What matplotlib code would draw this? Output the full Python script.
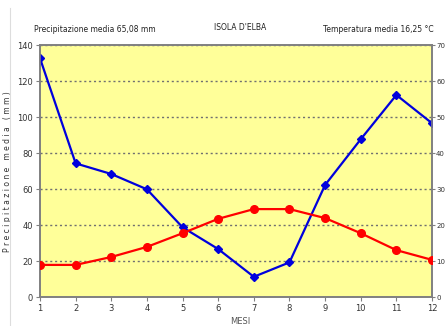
import matplotlib.pyplot as plt
from matplotlib.lines import Line2D

mesi = [1, 2, 3, 4, 5, 6, 7, 8, 9, 10, 11, 12]
precipitazioni = [132.8, 74.4, 68.5, 60.0, 38.9, 26.8, 11.4, 19.4, 62.4, 87.8, 112.4, 96.7]
temperature = [9.0, 9.0, 11.2, 14.0, 17.8, 21.8, 24.5, 24.5, 22.0, 17.8, 13.1, 10.4]

fig = plt.figure(figsize=(4.46, 3.26), dpi=100)
ax = fig.add_axes([40/446, 1-297.3/326, (432-40)/446, (297.3-45.3)/326])
ax.set_facecolor('#ffff99')

ax.plot(mesi, precipitazioni, color='#0000dd', lw=1.6, marker='D', ms=4.5, zorder=4)
ax.set_xlim(1, 12)
ax.set_ylim(0, 140)
ax.set_yticks(range(0, 141, 20))
ax.set_xticks(mesi)
ax.yaxis.grid(True, linestyle=(0, (1.5, 2)), color='#707070', lw=1)
ax.set_axisbelow(True)
ax.tick_params(labelsize=6, length=3, width=0.8, color='#808080', labelcolor='#333333', pad=2)
ax.set_ylabel('P r e c i p i t a z i o n e   m e d i a   ( m m )', fontsize=5.5, color='#333333', labelpad=4)
for s in ax.spines.values():
    s.set_color('#808080')
    s.set_linewidth(1.2)

ax2 = ax.twinx()
ax2.plot(mesi, temperature, color='#ff0000', lw=1.6, marker='o', ms=5.5, zorder=4)
ax2.set_ylim(0, 70)
ax2.set_yticks(range(0, 71, 10))
ax2.tick_params(labelsize=5, length=2, width=0.8, color='#808080', labelcolor='#333333', pad=1)
for s in ax2.spines.values():
    s.set_color('#808080')
    s.set_linewidth(1.2)

fig.text(95/446, 1-30/326, 'Precipitazione media 65,08 mm', fontsize=5.5, ha='center', va='center', color='#222222')
fig.text(240/446, 1-28/326, "ISOLA D'ELBA", fontsize=5.5, ha='center', va='center', color='#222222')
fig.text(378/446, 1-30/326, 'Temperatura media 16,25 °C', fontsize=5.5, ha='center', va='center', color='#222222')
fig.text(240/446, 1-326/326, 'MESI', fontsize=6, ha='center', va='bottom', color='#555555')

fig.add_artist(Line2D([10/446, 10/446], [0, 1-8/326], color='#dddddd', lw=0.8))

fig.savefig('out.png', dpi=100)
